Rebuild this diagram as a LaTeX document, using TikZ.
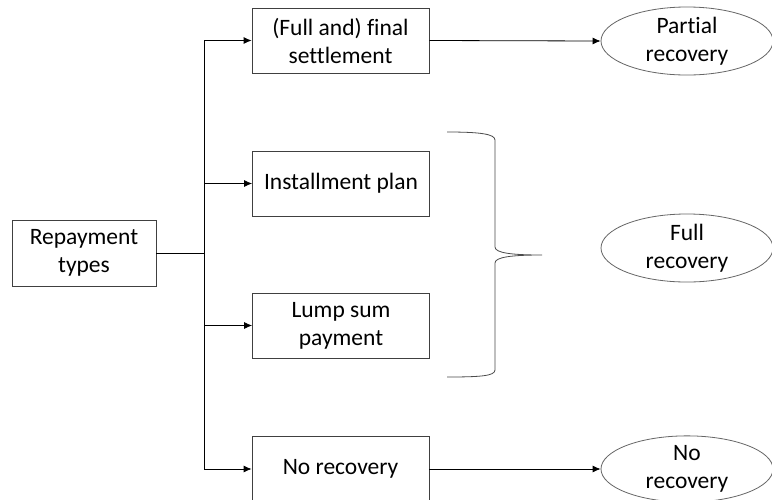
\documentclass[tikz,border=0pt]{standalone}
\usepackage{fontspec}
\setmainfont{Carlito}[Ligatures=NoCommon]
\usetikzlibrary{arrows.meta,shapes.geometric}
\begin{document}
\begin{tikzpicture}[x=1pt,y=-1pt,
  box/.style={draw=black!75, line width=0.8pt, rectangle, align=center, inner sep=0pt,
    minimum width=177pt, minimum height=65pt, font=\fontsize{23.5}{28}\selectfont},
  oval/.style={draw=black!60, line width=0.8pt, ellipse, align=center, inner sep=0pt,
    minimum width=172pt, minimum height=64pt, font=\fontsize{23.5}{28}\selectfont},
  conn/.style={line width=0.8pt, black},
  arr/.style={conn, -{Latex[length=8pt,width=7pt]}}]
\clip (0,0) rectangle (772,499);
\useasboundingbox (0,0) rectangle (772,499);
\fill[white] (0,0) rectangle (772,499);

\node[box, minimum width=144pt, minimum height=66pt] (rep) at (84,253) {Repayment\\types};
\node[box] (fin) at (340.5,40.5) {(Full and) final\\settlement};
\node[box] (ins) at (341,183.5) {Installment plan};
\node[box] (lump) at (341,325.5) {Lump sum\\payment};
\node[box, minimum height=66pt] (nor) at (340.5,469) {No recovery};

\node[oval] (part) at (687,41) {Partial\\recovery};
\node[oval] (full) at (687,248) {Full\\recovery};
\node[oval] (nrec) at (687,469) {No\\recovery};

\coordinate (j) at (204,253);
\coordinate (jt) at (204,40.5);
\coordinate (jb) at (204,469);

\draw[conn] (rep.east) -- (j);
\draw[conn] (jt) -- (jb);
\draw[arr] (jt) -- (fin.west);
\draw[arr] (j |- ins.west) -- (ins.west);
\draw[arr] (j |- lump.west) -- (lump.west);
\draw[arr] (jb) -- (nor.west);
\draw[arr] (fin.east) -- (part.west);
\draw[arr] (nor.east) -- (nrec.west);

\draw[black!70, line width=0.8pt] (447,132) .. controls (480,132) and (495,134) .. (495,140)
  -- (495,247) .. controls (495,253) and (512,255) .. (542,255)
  .. controls (512,255) and (495,257) .. (495,263)
  -- (495,370) .. controls (495,376) and (480,377) .. (447,377);
\end{tikzpicture}
\end{document}
